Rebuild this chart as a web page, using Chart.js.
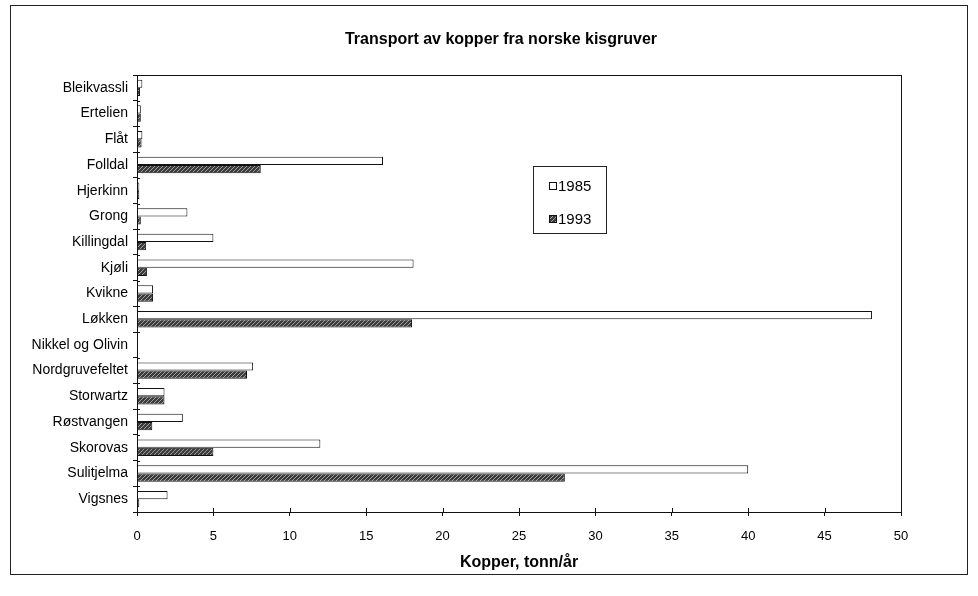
<!DOCTYPE html>
<html>
<head>
<meta charset="utf-8">
<script src="https://cdn.jsdelivr.net/npm/chart.js@4/dist/chart.umd.min.js"></script>
<style>
html,body{margin:0;padding:0;background:#fff;}
#wrap{width:978px;height:596px;position:relative;}
</style>
</head>
<body>
<div id="wrap"><canvas id="c" width="978" height="596"></canvas></div>
<script>
const categories = ["Bleikvassli","Ertelien","Flåt","Folldal","Hjerkinn","Grong","Killingdal","Kjøli","Kvikne","Løkken","Nikkel og Olivin","Nordgruvefeltet","Storwartz","Røstvangen","Skorovas","Sulitjelma","Vigsnes"];
const values1985 = [0.35,0.25,0.35,16.1,0.15,3.3,5.0,18.1,1.05,48.1,0,7.6,1.8,3.0,12.0,40.0,2.0];
const values1993 = [0.2,0.25,0.3,8.1,0.15,0.25,0.6,0.65,1.05,18.0,0,7.2,1.8,1.0,5.0,28.0,0.15];
const seriesLabels = ["1985","1993"];
const xTicks = [0,5,10,15,20,25,30,35,40,45,50];
const titleText = "Transport av kopper fra norske kisgruver";
const xTitleText = "Kopper, tonn/år";

const FONT = "'Liberation Sans', Arial, Helvetica, sans-serif";

const ctx0 = document.getElementById('c').getContext('2d');
const hatch = ctx0.createPattern((function(){
  const p=document.createElement('canvas');p.width=4;p.height=4;
  const g=p.getContext('2d');
  g.fillStyle='#3c3c3c';g.fillRect(0,0,4,4);
  g.fillStyle='#a0a0a0';
  g.fillRect(0,0,1,1);g.fillRect(2,2,1,1);g.fillRect(1,3,1,1);g.fillRect(3,1,1,1);
  return p;})(),'repeat');

const framePlugin = {
  id:'frame',
  beforeDraw(chart){
    const c = chart.ctx;
    c.save();
    c.fillStyle = '#fff';
    c.fillRect(0,0,chart.width,chart.height);
    c.strokeStyle = '#222';
    c.lineWidth = 1;
    c.strokeRect(10.5,5.5,957,569);
    c.restore();
  },
  afterDraw(chart){
    const c = chart.ctx;
    const a = chart.chartArea;
    c.save();
    // title
    c.fillStyle = '#000';
    c.font = "bold 16px " + FONT;
    c.textAlign = 'center';
    c.textBaseline = 'middle';
    c.fillText(titleText, 501, 40);
    // plot frame
    c.strokeStyle = '#111';
    c.lineWidth = 1;
    c.strokeRect(Math.round(a.left)+0.5, Math.round(a.top)+0.5, Math.round(a.right-a.left), Math.round(a.bottom-a.top));
    const xs = chart.scales.x;
    xTicks.forEach(v=>{
      const px = Math.round(xs.getPixelForValue(v))+0.5;
      c.beginPath(); c.moveTo(px, a.bottom); c.lineTo(px, a.bottom-4); c.stroke();
    });
    const ys = chart.scales.y;
    for(let i=0;i<=categories.length;i++){
      const py = Math.round(ys.getPixelForValue(i-0.5))+0.5;
      c.beginPath(); c.moveTo(a.left, py); c.lineTo(a.left+3, py); c.stroke();
    }
    // legend
    const lx = 533, ly = 166, lw = 73, lh = 67;
    c.strokeStyle = '#222';
    c.strokeRect(lx+0.5, ly+0.5, lw, lh);
    const ds = chart.data.datasets;
    const rows = [186, 219];
    c.font = "15px " + FONT;
    c.textBaseline = 'middle';
    c.textAlign = 'left';
    ds.forEach((d,i)=>{
      const y = rows[i];
      c.fillStyle = d.backgroundColor;
      c.fillRect(549, y-4, 8, 8);
      c.strokeStyle = '#111';
      c.strokeRect(549.5, y-3.5, 7, 7);
      c.fillStyle = '#000';
      c.fillText(d.label, 558, y+1);
    });
    c.restore();
  }
};

new Chart(ctx0, {
  type:'bar',
  data:{
    labels: categories,
    datasets:[
      {label: seriesLabels[0], data: values1985, backgroundColor:'#ffffff', borderColor:'#111', borderWidth:1},
      {label: seriesLabels[1], data: values1993, backgroundColor: hatch, borderColor:'#111', borderWidth:1}
    ]
  },
  options:{
    indexAxis:'y',
    responsive:false,
    animation:false,
    layout:{padding:{left:20,right:77,top:75,bottom:20}},
    datasets:{bar:{categoryPercentage:0.64,barPercentage:1.0}},
    plugins:{
      legend:{display:false},
      tooltip:{enabled:false},
      title:{display:false}
    },
    scales:{
      x:{
        min:0,max:50,
        afterBuildTicks(s){ s.ticks = xTicks.map(v=>({value:v})); },
        afterFit(s){ s.height = 64; },
        grid:{drawOnChartArea:false,drawTicks:true,tickLength:4,color:'#111'},
        border:{color:'#111'},
        ticks:{color:'#000',font:{family:FONT,size:13},padding:13,maxRotation:0},
        title:{display:true,text:xTitleText,color:'#000',font:{family:FONT,size:16,weight:'bold'},padding:{top:0,bottom:4}}
      },
      y:{
        afterFit(s){ s.width = 117; },
        grid:{offset:true,drawOnChartArea:false,drawTicks:true,tickLength:4,color:'#111'},
        border:{color:'#111'},
        ticks:{color:'#000',font:{family:FONT,size:14},padding:5,autoSkip:false}
      }
    }
  },
  plugins:[framePlugin]
});
</script>
</body>
</html>
